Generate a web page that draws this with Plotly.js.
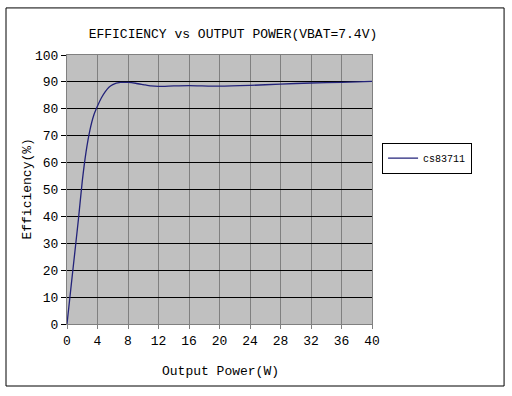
<!DOCTYPE html>
<html><head><meta charset="utf-8">
<script src="https://cdn.plot.ly/plotly-3.0.1.min.js"></script>
<style>html,body{margin:0;padding:0;background:#fff;}#chart{width:512px;height:396px;}</style>
</head><body><div id="chart"></div>
<script>
const outputPower = [0, 0.5, 1, 1.5, 2, 2.5, 3, 3.5, 4, 4.5, 5, 5.5, 6, 7, 8, 9, 10, 11, 12, 14, 16, 20, 24, 28, 32, 36, 40];
const efficiency  = [0, 13, 26, 39, 53, 64, 72, 77.5, 81, 84, 86.3, 88, 89, 89.8, 89.8, 89.5, 89, 88.5, 88.3, 88.5, 88.6, 88.4, 88.7, 89.2, 89.6, 89.8, 90.2];
const seriesName = 'cs83711';
const xTicks = [0,4,8,12,16,20,24,28,32,36,40];
const yTicks = [0,10,20,30,40,50,60,70,80,90,100];
const chartTitle = 'EFFICIENCY vs OUTPUT POWER(VBAT=7.4V)';
const xTitle = 'Output Power(W)';
const yTitle = 'Efficiency(%)';

const font = "'Liberation Mono', 'Courier New', monospace";
Plotly.newPlot('chart', [{
  x: outputPower, y: efficiency, name: seriesName, type: 'scatter', mode: 'lines',
  line: {color: '#23237a', width: 1.3, shape: 'spline', smoothing: 0.6}
}], {
  width: 512, height: 396,
  margin: {l: 67, r: 140, t: 55, b: 72},
  paper_bgcolor: '#ffffff', plot_bgcolor: '#c0c0c0',
  font: {family: font, size: 13, color: '#000'},
  title: {text: chartTitle, x: 0.455, xanchor: 'center', y: 0.915, yanchor: 'middle', font: {family: font, size: 13, color: '#000'}},
  xaxis: {range: [0, 40], tickvals: xTicks, ticktext: xTicks.map(String), showgrid: true, gridcolor: '#808080', gridwidth: 1,
    zeroline: false, showline: true, linecolor: '#808080', mirror: true, ticks: 'outside', ticklen: 4, tickcolor: '#808080',
    tickfont: {family: font, size: 13}},
  yaxis: {range: [0, 100], tickvals: yTicks, ticktext: yTicks.map(String), showgrid: true, gridcolor: '#000000', gridwidth: 1,
    zeroline: false, showline: true, linecolor: '#808080', mirror: true, ticks: 'outside', ticklen: 5, tickcolor: '#000',
    tickfont: {family: font, size: 13}},
  annotations: [
    {text: xTitle, xref: 'paper', yref: 'paper', x: 0.502, y: -0.178, xanchor: 'center', yanchor: 'middle', showarrow: false, font: {family: font, size: 13}},
    {text: yTitle, xref: 'paper', yref: 'paper', x: -0.131, y: 0.5, xanchor: 'center', yanchor: 'middle', textangle: -90, showarrow: false, font: {family: font, size: 13}}
  ],
  showlegend: true,
  legend: {x: 1.033, xanchor: 'left', y: 0.617, yanchor: 'middle', bgcolor: '#fff', bordercolor: '#000', borderwidth: 1,
    font: {family: font, size: 10}, itemwidth: 30, tracegroupgap: 0},
  shapes: [{type: 'rect', xref: 'paper', yref: 'paper', x0: -0.2, x1: 1.433, y0: -0.2305, y1: 1.175,
    line: {color: '#000', width: 1}, fillcolor: 'rgba(0,0,0,0)', layer: 'below'}]
}, {displayModeBar: false, staticPlot: true});
</script></body></html>
